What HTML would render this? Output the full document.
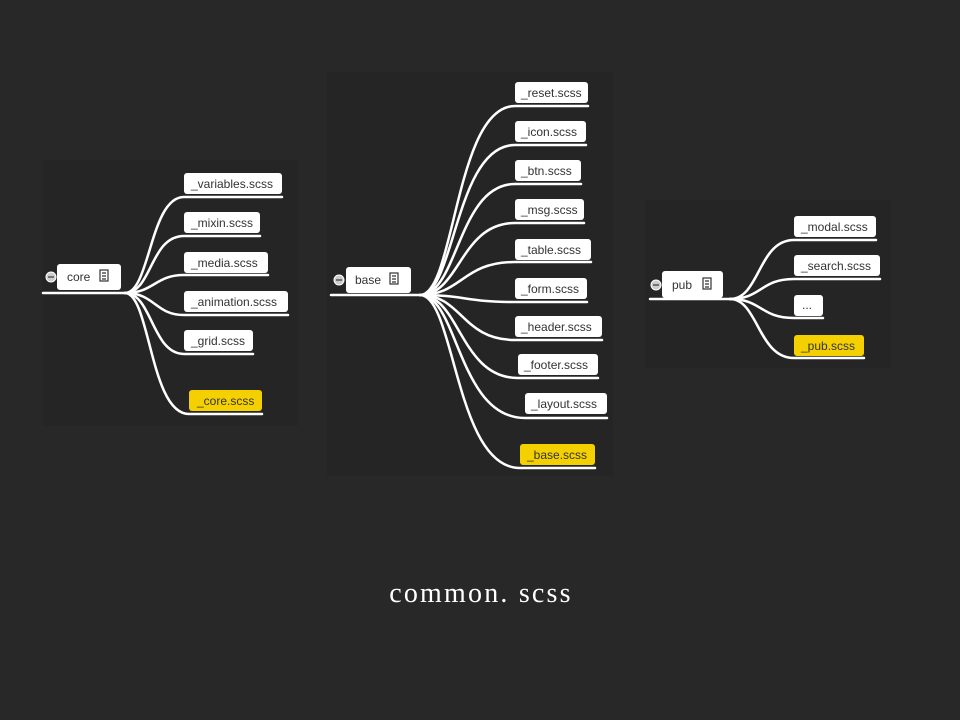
<!DOCTYPE html>
<html><head><meta charset="utf-8"><style>
html,body{margin:0;padding:0;background:#282828;}
svg{display:block}
.t{font-family:"Liberation Sans",sans-serif;font-size:12px;fill:#333;}
</style></head><body>
<svg width="960" height="720" viewBox="0 0 960 720" xmlns="http://www.w3.org/2000/svg">
<rect width="960" height="720" fill="#282828"/>
<rect x="42" y="160" width="256" height="266" fill="#252525"/>
<rect x="327" y="72" width="286" height="404" fill="#252525"/>
<rect x="645" y="200" width="246" height="168" fill="#252525"/>
<g fill="none" stroke="#fff" stroke-width="2.5" stroke-linecap="round">
<path d="M43 293H125"/>
<path d="M125 293C150 293 150 197 184 197H282"/>
<path d="M125 293C152 293 150 236 184 236H260"/>
<path d="M125 293C154 293 155 275 184 275H268"/>
<path d="M125 293C155 293 155 315 184 315H288"/>
<path d="M125 293C152 293 152 354 184 354H253"/>
<path d="M125 293C150 293 150 414 189 414H262"/>
<path d="M331 295H420"/>
<path d="M420 295C455 295 455 106 515 106H588"/>
<path d="M420 295C455 295 455 145 515 145H586"/>
<path d="M420 295C458 295 458 184 515 184H581"/>
<path d="M420 295C460 295 460 223 515 223H584"/>
<path d="M420 295C462 295 462 262 515 262H591"/>
<path d="M420 295C465 295 465 302 515 302H587"/>
<path d="M420 295C462 295 462 340 515 340H602"/>
<path d="M420 295C460 295 460 378 518 378H598"/>
<path d="M420 295C458 295 458 418 525 418H607"/>
<path d="M420 295C455 295 455 468 520 468H595"/>
<path d="M650 299H730"/>
<path d="M730 299C760 299 758 240 794 240H876"/>
<path d="M730 299C762 299 760 279 794 279H880"/>
<path d="M730 299C762 299 760 318 794 318H823"/>
<path d="M730 299C758 299 758 358 794 358H864"/>
</g>
<g fill="#fff">
<rect x="57" y="264" width="64" height="26" rx="3"/>
<rect x="346" y="267" width="65" height="26" rx="3"/>
<rect x="662" y="271" width="61" height="27" rx="3"/>
<rect x="184" y="173" width="98" height="21" rx="3"/>
<rect x="184" y="212" width="76" height="21" rx="3"/>
<rect x="184" y="252" width="84" height="21" rx="3"/>
<rect x="184" y="291" width="104" height="21" rx="3"/>
<rect x="184" y="330" width="69" height="21" rx="3"/>
<rect x="515" y="82" width="73" height="21" rx="3"/>
<rect x="515" y="121" width="71" height="21" rx="3"/>
<rect x="515" y="160" width="66" height="21" rx="3"/>
<rect x="515" y="199" width="69" height="21" rx="3"/>
<rect x="515" y="239" width="76" height="21" rx="3"/>
<rect x="515" y="278" width="72" height="21" rx="3"/>
<rect x="515" y="316" width="87" height="21" rx="3"/>
<rect x="518" y="354" width="80" height="21" rx="3"/>
<rect x="525" y="393" width="82" height="21" rx="3"/>
<rect x="794" y="216" width="82" height="21" rx="3"/>
<rect x="794" y="255" width="86" height="21" rx="3"/>
<rect x="794" y="295" width="29" height="21" rx="3"/>
</g>
<g fill="#f5d000">
<rect x="189" y="390" width="73" height="21" rx="3"/>
<rect x="520" y="444" width="75" height="21" rx="3"/>
<rect x="794" y="335" width="70" height="21" rx="3"/>
</g>
<g fill="#ccc" stroke="#fff" stroke-width="1">
<circle cx="51" cy="277" r="5"/><circle cx="339" cy="280" r="5"/><circle cx="656" cy="285" r="5"/>
</g>
<g stroke="#555" stroke-width="1.5"><path d="M48 277H54M336 280H342M653 285H659"/></g>
<g fill="none" stroke="#333" stroke-width="1.2">
<rect x="100" y="270" width="8" height="11"/><path d="M102 273H106M102 276H106M102 279H106"/>
<rect x="390" y="273" width="8" height="11"/><path d="M392 276H396M392 279H396M392 282H396"/>
<rect x="703" y="278" width="8" height="11"/><path d="M705 281H709M705 284H709M705 287H709"/>
</g>
<g class="t">
<text x="67" y="281">core</text>
<text x="355" y="284">base</text>
<text x="672" y="289">pub</text>
<text x="191" y="188">_variables.scss</text>
<text x="191" y="227">_mixin.scss</text>
<text x="191" y="267">_media.scss</text>
<text x="191" y="306">_animation.scss</text>
<text x="191" y="345">_grid.scss</text>
<text x="197" y="405">_core.scss</text>
<text x="521" y="97">_reset.scss</text>
<text x="521" y="136">_icon.scss</text>
<text x="521" y="175">_btn.scss</text>
<text x="521" y="214">_msg.scss</text>
<text x="521" y="254">_table.scss</text>
<text x="521" y="293">_form.scss</text>
<text x="521" y="331">_header.scss</text>
<text x="524" y="369">_footer.scss</text>
<text x="531" y="408">_layout.scss</text>
<text x="527" y="459">_base.scss</text>
<text x="801" y="231">_modal.scss</text>
<text x="801" y="270">_search.scss</text>
<text x="802" y="309">...</text>
<text x="801" y="350">_pub.scss</text>
</g>
<text x="481" y="602" text-anchor="middle" fill="#fff" font-family="Liberation Serif, serif" font-size="28" letter-spacing="2.2">common. scss</text>
</svg>
</body></html>
